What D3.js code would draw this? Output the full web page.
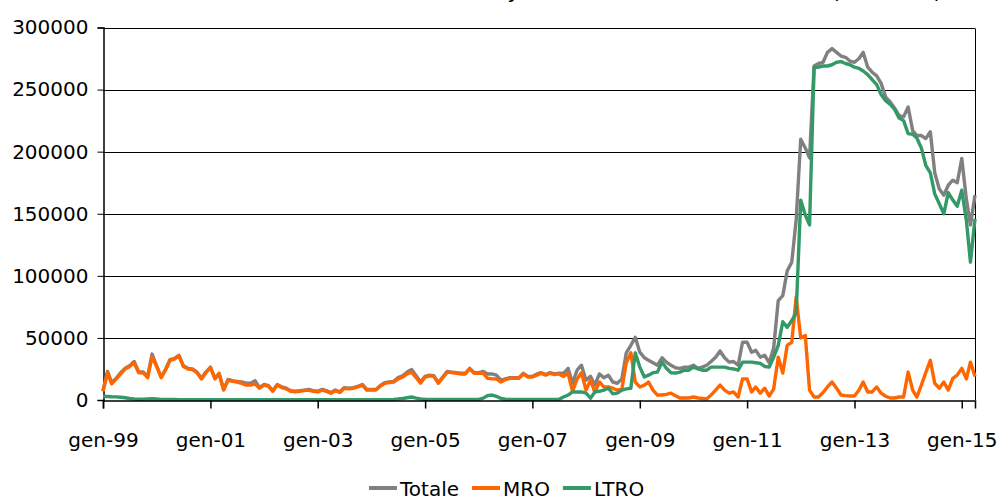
<!DOCTYPE html>
<html>
<head>
<meta charset="utf-8">
<script src="https://cdn.jsdelivr.net/npm/d3@7"></script>
<style>
  body { margin: 0; background: #fff; }
  svg { display: block; font-family: "DejaVu Sans", sans-serif; }
</style>
</head>
<body>
<div class="container"></div>
<script>
// monthly values, gen-99 .. apr-15
const mro = [
  7000, 22000, 13000, 17000, 21000, 25000, 27000, 30000, 22000, 22000, 18000, 35000,
  27000, 18000, 24000, 32000, 33000, 35500, 27000, 25000, 24500, 22000, 17000, 22000,
  26000, 17000, 21000, 8000, 16000, 15000, 14500, 13500, 12000, 12000, 13000, 9500,
  12000, 11000, 7000, 12000, 10000, 9000, 7000, 6500, 7000, 7500, 8000, 7000,
  6500, 8000, 7000, 5500, 7500, 6000, 9500, 9000, 9500, 10500, 12000, 8000,
  8000, 8000, 11000, 13500, 14000, 14500, 17000, 18500, 21000, 22500, 18000, 13500,
  18500, 19500, 19000, 13500, 18000, 22500, 22000, 21500, 21000, 21000, 25000, 21500,
  21500, 21500, 17500, 17000, 17000, 14500, 16500, 17500, 17500, 17500, 21000, 18500,
  18500, 20000, 21500, 20000, 21500, 20500, 21000, 19000, 21500, 7000, 17000, 22000,
  8000, 16000, 6000, 14500, 10500, 10500, 9500, 8000, 9000, 30000, 38000, 14500,
  10500, 12000, 14500, 8000, 4000, 4000, 4500, 5500, 3500, 1600, 1600, 1600,
  2400, 1600, 1200, 800, 4000, 8000, 12000, 8000, 5500, 6500, 2400, 17000,
  17000, 6500, 10500, 5500, 9500, 3200, 9000, 34500, 21700, 44000, 46500, 83000,
  50000, 52000, 8000, 2400, 2400, 6000, 10500, 14500, 9500, 4000, 3500, 3200,
  3200, 8000, 14500, 6500, 6500, 10500, 5500, 3000, 1600, 1600, 2400, 2400,
  22500, 8000, 2400, 12000, 22000, 32000, 13500, 9500, 14500, 8000, 17500, 20000,
  25500, 17000, 30500, 19000
];

const ltro = [
  3000, 2800, 2600, 2500, 2200, 1800, 1200, 800, 600, 600, 800, 1000,
  800, 500, 400, 400, 400, 300, 300, 300, 300, 300, 300, 300,
  300, 300, 300, 300, 300, 300, 300, 300, 300, 300, 300, 300,
  300, 300, 300, 300, 300, 300, 300, 300, 300, 300, 300, 300,
  300, 300, 300, 300, 300, 300, 300, 300, 300, 300, 300, 300,
  300, 300, 300, 300, 300, 500, 800, 1200, 1800, 2400, 1500, 800,
  600, 500, 500, 500, 500, 500, 500, 500, 500, 500, 500, 500,
  500, 1500, 3500, 4000, 3000, 1200, 600, 500, 500, 500, 500, 500,
  500, 500, 500, 500, 500, 500, 500, 2400, 4000, 6500, 6500, 6500,
  5500, 1500, 6500, 7000, 8000, 9500, 5000, 5500, 8000, 9000, 9500, 38000,
  26500, 18500, 20000, 22000, 22500, 30500, 25500, 22000, 21700, 22500, 24000, 24000,
  26500, 25000, 24000, 24000, 26500, 26500, 26500, 26500, 25500, 25000, 24000, 30500,
  30500, 30500, 30000, 29500, 27000, 26500, 34500, 44000, 63000, 58500, 64000, 70000,
  161000, 149000, 141000, 268000, 268000, 269000, 269000, 270000, 272000, 272500, 271000, 270000,
  268000, 267000, 265000, 262000, 258000, 254000, 246000, 241000, 238000, 234000, 227000, 225000,
  214500, 214000, 211000, 203000, 189000, 183000, 166000, 158000, 150000, 167000, 161000, 156000,
  169000, 145000, 111000, 146000
];

const totale = [
  7500, 23000, 14000, 17500, 22000, 25500, 27500, 31000, 22500, 22500, 19000, 37000,
  27500, 18500, 24500, 32500, 33500, 36000, 27500, 25500, 25000, 22500, 17500, 22500,
  26500, 17500, 21500, 8500, 16500, 15500, 15000, 14500, 13500, 13500, 15500, 10000,
  12500, 11500, 7500, 12500, 10500, 9500, 7500, 7000, 7500, 8000, 8500, 7500,
  7000, 8500, 7500, 6000, 8000, 6500, 10000, 9500, 10000, 11000, 12500, 8500,
  8500, 8500, 11500, 14000, 14500, 15000, 18000, 19500, 22500, 24500, 19500, 14500,
  19000, 20000, 19500, 14000, 18500, 23000, 22500, 22000, 21500, 21500, 25500, 22000,
  22000, 23000, 21000, 21000, 20000, 16000, 17000, 18000, 18000, 18000, 21500, 19000,
  19000, 21000, 22000, 20500, 22000, 21000, 21500, 21500, 25500, 13500, 24000, 28000,
  16000, 19000, 12000, 21000, 18000, 20000, 14500, 13500, 17000, 38000, 44000, 50500,
  38500, 34000, 32000, 30000, 28000, 34000, 30500, 28000, 26000, 25500, 26500, 26500,
  28000, 25500, 26500, 28000, 31000, 34500, 39500, 34000, 30500, 31000, 28000, 46500,
  46500, 38500, 40000, 34500, 36000, 30000, 42000, 80000, 84000, 104000, 111000, 145000,
  210000, 203000, 195000, 269000, 271000, 272000, 280000, 283000, 280000, 277000, 276000, 273000,
  272000, 275000, 280000, 268000, 264000, 261000, 255000, 244000, 240000, 235000, 229000, 228000,
  236000, 217000, 213000, 213000, 210500, 216000, 183000, 170000, 165000, 173000, 177000, 175000,
  194500, 162000, 141000, 165000
];

const yTicks = [0, 50000, 100000, 150000, 200000, 250000, 300000];
const xTickYears = [1999, 2001, 2003, 2005, 2007, 2009, 2011, 2013, 2015];
const seriesNames = ["Totale", "MRO", "LTRO"];
const colors = ["#808080", "#ff6600", "#339966"];
const titleText = "Italy: ECB credit to Italian banks (EUR mln)";

// month categories
const months = d3.timeMonth.range(new Date(1999, 0, 1), new Date(2015, 4, 1));
const series = [totale, mro, ltro];

const w = 999;
const h = 500;
const svg = d3.select(".container")
  .append("svg")
  .attr("width", w)
  .attr("height", h);

const x = d3.scaleTime()
  .domain([months[0], months[months.length - 1]])
  .range([103, 975]);

const y = d3.scaleLinear()
  .domain([0, 300000])
  .range([400, 27.5]);

// title: in the original only its lower edge shows at the top of the picture
const title = svg.append("text")
  .attr("y", -2)
  .style("font-size", "22px")
  .text(titleText);
const tnode = title.node();
const iy = titleText.indexOf("y");
const ey = tnode.getExtentOfChar(iy);
title.attr("x", 513 - (ey.x + ey.width / 2));

// gridlines
svg.append("g")
  .selectAll("line")
  .data(yTicks.slice(1))
  .enter()
  .append("line")
  .attr("x1", 103)
  .attr("x2", 975)
  .attr("y1", (d) => Math.round(y(d)) + 0.5)
  .attr("y2", (d) => Math.round(y(d)) + 0.5)
  .attr("stroke", "#000")
  .attr("stroke-width", 1);

// right border
svg.append("line")
  .attr("x1", 975.5).attr("x2", 975.5)
  .attr("y1", Math.round(y(300000)) + 0.5).attr("y2", 400)
  .attr("stroke", "#000");

// y axis
const yAxis = d3.axisLeft(y)
  .tickValues(yTicks)
  .tickFormat((d) => d)
  .tickSize(6)
  .tickPadding(9);

const gy = svg.append("g")
  .attr("transform", "translate(103.5,0)")
  .call(yAxis);
gy.select(".domain").attr("stroke", "#000").attr("stroke-width", 1.5);
gy.selectAll(".tick line").attr("stroke", "#000");
gy.selectAll(".tick text")
  .style("font-size", "20px")
  .style("font-family", "'DejaVu Sans', sans-serif")
  .attr("fill", "#000");

// lines
const line = d3.line()
  .x((d, i) => x(months[i]))
  .y((d) => y(d));

svg.append("g")
  .selectAll("path")
  .data(series)
  .enter()
  .append("path")
  .attr("d", (d) => line(d))
  .attr("fill", "none")
  .attr("stroke", (d, i) => colors[i])
  .attr("stroke-width", 3.4)
  .attr("stroke-linejoin", "round");

// x axis
const xAxis = d3.axisBottom(x)
  .tickValues(xTickYears.map((yr) => new Date(yr, 0, 1)))
  .tickFormat((d) => "gen-" + d3.timeFormat("%y")(d))
  .tickSize(8)
  .tickPadding(24);

const gx = svg.append("g")
  .attr("transform", "translate(0,400.5)")
  .call(xAxis);
gx.select(".domain").attr("stroke", "#000").attr("stroke-width", 1.5);
gx.selectAll(".tick line").attr("stroke", "#000").attr("stroke-width", 1.5);
gx.selectAll(".tick text")
  .style("font-size", "20px")
  .style("font-family", "'DejaVu Sans', sans-serif")
  .attr("fill", "#000");

// legend
const legend = svg.append("g");
let lx = 0;
seriesNames.forEach((name, i) => {
  const item = legend.append("g").attr("transform", `translate(${lx},0)`);
  item.append("line")
    .attr("x1", 0).attr("x2", 28)
    .attr("y1", 0).attr("y2", 0)
    .attr("stroke", colors[i])
    .attr("stroke-width", 4);
  const t = item.append("text")
    .attr("x", 31)
    .attr("y", 8)
    .style("font-size", "20px")
    .text(name);
  lx += 31 + t.node().getComputedTextLength() + 13;
});
legend.attr("transform", `translate(${Math.round(507 - (lx - 13) / 2)},488)`);
</script>
</body>
</html>
